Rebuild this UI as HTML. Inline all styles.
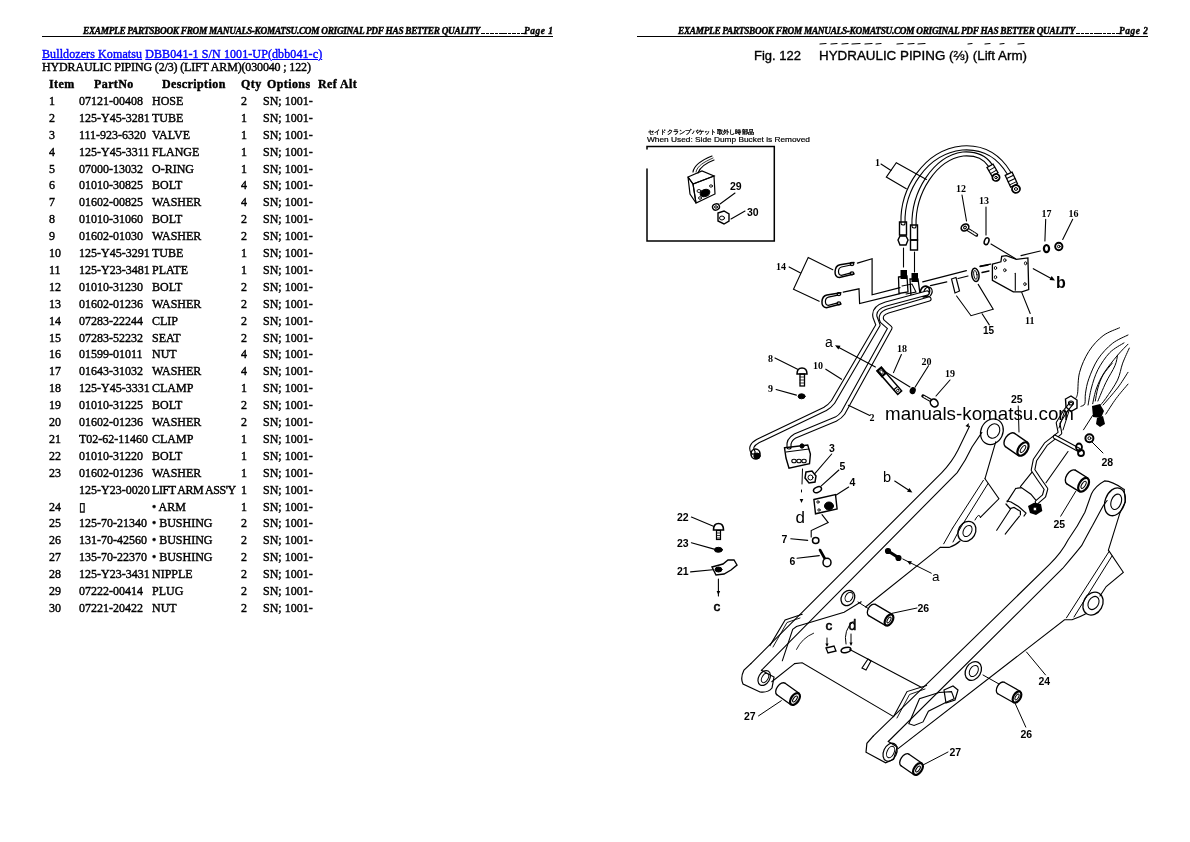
<!DOCTYPE html>
<html><head><meta charset="utf-8"><style>
html,body{margin:0;padding:0;background:#fff;}
body{width:1190px;height:842px;position:relative;overflow:hidden;font-family:"Liberation Serif",serif;color:#000;}
.r,.t,.hdr{-webkit-text-stroke-width:0.4px;will-change:transform;}
.hdr{position:absolute;font-family:"Liberation Serif",serif;font-weight:bold;font-style:italic;font-size:9.3px;line-height:10px;white-space:nowrap;}
.hl{position:absolute;height:1px;background:#000;}
.hd{position:absolute;top:32.5px;width:3.6px;height:1.6px;background:#000;}
.t{position:absolute;white-space:nowrap;font-size:12px;line-height:14px;}
.r{position:absolute;left:0;width:400px;height:14px;font-size:12px;line-height:14px;white-space:nowrap;}
.r span{position:absolute;top:0;}
.c1{left:49px} .c2{left:79px} .c3{left:152px} .c4{left:241px} .c5{left:263px}
.h span{position:absolute;top:0;font-weight:bold;}
a{color:#0000ff;text-decoration:underline;}
svg{position:absolute;left:0;top:0;}
</style></head><body>
<div class="hdr" style="left:83.4px;top:26px;letter-spacing:-0.3px">EXAMPLE PARTSBOOK FROM MANUALS-KOMATSU.COM ORIGINAL PDF HAS BETTER QUALITY</div><div class="hd" style="left:481.4px"></div><div class="hd" style="left:485.8px"></div><div class="hd" style="left:490.2px"></div><div class="hd" style="left:494.6px"></div><div class="hd" style="left:499.0px"></div><div class="hd" style="left:503.4px"></div><div class="hd" style="left:507.8px"></div><div class="hd" style="left:512.2px"></div><div class="hd" style="left:516.6px"></div><div class="hd" style="left:521.0px"></div><div class="hdr" style="left:524.4px;top:26px;letter-spacing:0.55px">Page 1</div>
<div class="hl" style="left:42px;top:36px;width:511px"></div>
<div class="hdr" style="left:678.4px;top:26px;letter-spacing:-0.3px">EXAMPLE PARTSBOOK FROM MANUALS-KOMATSU.COM ORIGINAL PDF HAS BETTER QUALITY</div><div class="hd" style="left:1076.4px"></div><div class="hd" style="left:1080.8px"></div><div class="hd" style="left:1085.2px"></div><div class="hd" style="left:1089.6px"></div><div class="hd" style="left:1094.0px"></div><div class="hd" style="left:1098.4px"></div><div class="hd" style="left:1102.8px"></div><div class="hd" style="left:1107.2px"></div><div class="hd" style="left:1111.6px"></div><div class="hd" style="left:1116.0px"></div><div class="hdr" style="left:1119.4px;top:26px;letter-spacing:0.55px">Page 2</div>
<div class="hl" style="left:637px;top:36px;width:511px"></div>
<div class="t" style="left:42px;top:46.5px;letter-spacing:0.1px"><a>Bulldozers Komatsu</a> <a>DBB041-1 S/N 1001-UP(dbb041-c)</a></div>
<div class="t" style="left:42px;top:60px;letter-spacing:-0.15px">HYDRAULIC PIPING (2/3) (LIFT ARM)(030040 ; 122)</div>
<div class="r h" style="top:77px;letter-spacing:0.4px"><span style="left:49px">Item</span><span style="left:94px">PartNo</span><span style="left:162px">Description</span><span style="left:241px">Qty</span><span style="left:267px">Options</span><span style="left:318px">Ref Alt</span></div>
<div class="r" style="top:93.9px"><span class="c1">1</span><span class="c2">07121-00408</span><span class="c3">HOSE</span><span class="c4">2</span><span class="c5">SN; 1001-</span></div>
<div class="r" style="top:110.8px"><span class="c1">2</span><span class="c2">125-Y45-3281</span><span class="c3">TUBE</span><span class="c4">1</span><span class="c5">SN; 1001-</span></div>
<div class="r" style="top:127.7px"><span class="c1">3</span><span class="c2">111-923-6320</span><span class="c3">VALVE</span><span class="c4">1</span><span class="c5">SN; 1001-</span></div>
<div class="r" style="top:144.6px"><span class="c1">4</span><span class="c2">125-Y45-3311</span><span class="c3">FLANGE</span><span class="c4">1</span><span class="c5">SN; 1001-</span></div>
<div class="r" style="top:161.5px"><span class="c1">5</span><span class="c2">07000-13032</span><span class="c3">O-RING</span><span class="c4">1</span><span class="c5">SN; 1001-</span></div>
<div class="r" style="top:178.4px"><span class="c1">6</span><span class="c2">01010-30825</span><span class="c3">BOLT</span><span class="c4">4</span><span class="c5">SN; 1001-</span></div>
<div class="r" style="top:195.3px"><span class="c1">7</span><span class="c2">01602-00825</span><span class="c3">WASHER</span><span class="c4">4</span><span class="c5">SN; 1001-</span></div>
<div class="r" style="top:212.2px"><span class="c1">8</span><span class="c2">01010-31060</span><span class="c3">BOLT</span><span class="c4">2</span><span class="c5">SN; 1001-</span></div>
<div class="r" style="top:229.1px"><span class="c1">9</span><span class="c2">01602-01030</span><span class="c3">WASHER</span><span class="c4">2</span><span class="c5">SN; 1001-</span></div>
<div class="r" style="top:246.0px"><span class="c1">10</span><span class="c2">125-Y45-3291</span><span class="c3">TUBE</span><span class="c4">1</span><span class="c5">SN; 1001-</span></div>
<div class="r" style="top:262.9px"><span class="c1">11</span><span class="c2">125-Y23-3481</span><span class="c3">PLATE</span><span class="c4">1</span><span class="c5">SN; 1001-</span></div>
<div class="r" style="top:279.8px"><span class="c1">12</span><span class="c2">01010-31230</span><span class="c3">BOLT</span><span class="c4">2</span><span class="c5">SN; 1001-</span></div>
<div class="r" style="top:296.7px"><span class="c1">13</span><span class="c2">01602-01236</span><span class="c3">WASHER</span><span class="c4">2</span><span class="c5">SN; 1001-</span></div>
<div class="r" style="top:313.6px"><span class="c1">14</span><span class="c2">07283-22244</span><span class="c3">CLIP</span><span class="c4">2</span><span class="c5">SN; 1001-</span></div>
<div class="r" style="top:330.5px"><span class="c1">15</span><span class="c2">07283-52232</span><span class="c3">SEAT</span><span class="c4">2</span><span class="c5">SN; 1001-</span></div>
<div class="r" style="top:347.4px"><span class="c1">16</span><span class="c2">01599-01011</span><span class="c3">NUT</span><span class="c4">4</span><span class="c5">SN; 1001-</span></div>
<div class="r" style="top:364.3px"><span class="c1">17</span><span class="c2">01643-31032</span><span class="c3">WASHER</span><span class="c4">4</span><span class="c5">SN; 1001-</span></div>
<div class="r" style="top:381.2px"><span class="c1">18</span><span class="c2">125-Y45-3331</span><span class="c3">CLAMP</span><span class="c4">1</span><span class="c5">SN; 1001-</span></div>
<div class="r" style="top:398.1px"><span class="c1">19</span><span class="c2">01010-31225</span><span class="c3">BOLT</span><span class="c4">2</span><span class="c5">SN; 1001-</span></div>
<div class="r" style="top:415.0px"><span class="c1">20</span><span class="c2">01602-01236</span><span class="c3">WASHER</span><span class="c4">2</span><span class="c5">SN; 1001-</span></div>
<div class="r" style="top:431.9px"><span class="c1">21</span><span class="c2">T02-62-11460</span><span class="c3">CLAMP</span><span class="c4">1</span><span class="c5">SN; 1001-</span></div>
<div class="r" style="top:448.8px"><span class="c1">22</span><span class="c2">01010-31220</span><span class="c3">BOLT</span><span class="c4">1</span><span class="c5">SN; 1001-</span></div>
<div class="r" style="top:465.7px"><span class="c1">23</span><span class="c2">01602-01236</span><span class="c3">WASHER</span><span class="c4">1</span><span class="c5">SN; 1001-</span></div>
<div class="r" style="top:482.6px"><span class="c1"></span><span class="c2">125-Y23-0020</span><span class="c3" style="letter-spacing:-0.45px">LIFT ARM ASS'Y</span><span class="c4">1</span><span class="c5">SN; 1001-</span></div>
<div class="r" style="top:499.5px"><span class="c1">24</span><span class="c2">▯</span><span class="c3">• ARM</span><span class="c4">1</span><span class="c5">SN; 1001-</span></div>
<div class="r" style="top:516.4px"><span class="c1">25</span><span class="c2">125-70-21340</span><span class="c3">• BUSHING</span><span class="c4">2</span><span class="c5">SN; 1001-</span></div>
<div class="r" style="top:533.3px"><span class="c1">26</span><span class="c2">131-70-42560</span><span class="c3">• BUSHING</span><span class="c4">2</span><span class="c5">SN; 1001-</span></div>
<div class="r" style="top:550.2px"><span class="c1">27</span><span class="c2">135-70-22370</span><span class="c3">• BUSHING</span><span class="c4">2</span><span class="c5">SN; 1001-</span></div>
<div class="r" style="top:567.1px"><span class="c1">28</span><span class="c2">125-Y23-3431</span><span class="c3">NIPPLE</span><span class="c4">2</span><span class="c5">SN; 1001-</span></div>
<div class="r" style="top:584.0px"><span class="c1">29</span><span class="c2">07222-00414</span><span class="c3">PLUG</span><span class="c4">2</span><span class="c5">SN; 1001-</span></div>
<div class="r" style="top:600.9px"><span class="c1">30</span><span class="c2">07221-20422</span><span class="c3">NUT</span><span class="c4">2</span><span class="c5">SN; 1001-</span></div>
<svg width="1190" height="842" viewBox="0 0 1190 842" stroke="#000" fill="none" stroke-linecap="round">
<text x="754" y="59.6" font-family="Liberation Sans" font-size="12.5" font-weight="normal" text-anchor="start"  fill="#000" textLength="47" lengthAdjust="spacingAndGlyphs" stroke="#000" stroke-width="0.35">Fig. 122</text>
<text x="819" y="59.6" font-family="Liberation Sans" font-size="12.5" font-weight="normal" text-anchor="start"  fill="#000" textLength="208" lengthAdjust="spacingAndGlyphs" stroke="#000" stroke-width="0.35">HYDRAULIC PIPING (⅔) (Lift Arm)</text>
<line x1="820" y1="44" x2="826" y2="43.5" stroke-width="1.2"/>
<line x1="831" y1="44" x2="837" y2="43.5" stroke-width="1.2"/>
<line x1="842" y1="44" x2="848" y2="43.5" stroke-width="1.2"/>
<line x1="852" y1="44" x2="860" y2="43.5" stroke-width="1.2"/>
<line x1="865" y1="44" x2="872" y2="43.5" stroke-width="1.2"/>
<line x1="876" y1="44" x2="881" y2="43.5" stroke-width="1.2"/>
<line x1="897" y1="44" x2="903" y2="43.5" stroke-width="1.2"/>
<line x1="908" y1="44" x2="914" y2="43.5" stroke-width="1.2"/>
<line x1="918" y1="44" x2="925" y2="43.5" stroke-width="1.2"/>
<line x1="968" y1="44" x2="972" y2="43.5" stroke-width="1.2"/>
<line x1="985" y1="44" x2="990" y2="43.5" stroke-width="1.2"/>
<line x1="1000" y1="44" x2="1004" y2="43.5" stroke-width="1.2"/>
<line x1="1018" y1="44" x2="1024" y2="43.5" stroke-width="1.2"/>
<text x="648" y="133.8" font-family="Liberation Sans" font-size="6.2" font-weight="normal" text-anchor="start"  fill="#000" textLength="106" lengthAdjust="spacingAndGlyphs" stroke="#000" stroke-width="0.3">セイドクランプバケット取外し時部品</text>
<text x="647" y="142.4" font-family="Liberation Sans" font-size="7.5" font-weight="normal" text-anchor="start"  fill="#000" textLength="163" lengthAdjust="spacingAndGlyphs" stroke="#000" stroke-width="0.2">When Used: Side Dump Bucket is Removed</text>
<polyline points="647,169 647,241 774.3,241 774.3,146.5 647,146.5 647,149" stroke-width="1.5" fill="none"/>
<polygon points="688,177 702,171 714,176 693,184" stroke-width="1.2" fill="none"/>
<polygon points="688,177 690,194 696,203 693,184" stroke-width="1.2" fill="none"/>
<polygon points="693,184 714,176 715,194 696,203" stroke-width="1.2" fill="none"/>
<path d="M693,172 C694,165 702,160 712,156" stroke-width="1.2" fill="none"/>
<path d="M698,173 C700,167 706,163 714,160" stroke-width="1.2" fill="none"/>
<path d="M696,172 C697,166 704,162 713,158" stroke-width="0.8" fill="none"/>
<ellipse cx="705" cy="193" rx="5" ry="3.5" transform="rotate(-20 705 193)" stroke-width="1" fill="#000"/>
<ellipse cx="699" cy="191" rx="2" ry="1.5" transform="rotate(0 699 191)" stroke-width="0.9" fill="none"/>
<ellipse cx="700" cy="198" rx="1.5" ry="1.3" transform="rotate(0 700 198)" stroke-width="0.9" fill="none"/>
<ellipse cx="711" cy="186" rx="1.5" ry="1.2" transform="rotate(0 711 186)" stroke-width="0.9" fill="none"/>
<text x="730" y="190.2" font-family="Liberation Sans" font-size="10.5" font-weight="bold" text-anchor="start" stroke="none" fill="#000" >29</text>
<line x1="720" y1="204" x2="735" y2="193" stroke-width="1.1"/>
<ellipse cx="716" cy="207" rx="3.5" ry="3" transform="rotate(-20 716 207)" stroke-width="1.4" fill="none"/>
<ellipse cx="716" cy="207" rx="1.5" ry="1.2" transform="rotate(0 716 207)" stroke-width="1" fill="none"/>
<polygon points="718,213 724,211 729,214 729,221 724,224 718,221" stroke-width="1.4" fill="none"/>
<ellipse cx="722" cy="218" rx="2.5" ry="2" transform="rotate(0 722 218)" stroke-width="1" fill="none"/>
<text x="747" y="215.5" font-family="Liberation Sans" font-size="10.5" font-weight="bold" text-anchor="start" stroke="none" fill="#000" >30</text>
<line x1="731" y1="219" x2="745" y2="211" stroke-width="1.1"/>
<path d="M903,223 C902,190 925,152 962,148 C988,146 1001,160 1009,173" stroke-width="5.2" fill="none" stroke-linejoin="round"/>
<path d="M903,223 C902,190 925,152 962,148 C988,146 1001,160 1009,173" stroke-width="3.0" fill="none" stroke="#fff" stroke-linejoin="round"/>
<path d="M914,226 C913,192 935,158 963,154 C978,153 985,158 990,165" stroke-width="5.2" fill="none" stroke-linejoin="round"/>
<path d="M914,226 C913,192 935,158 963,154 C978,153 985,158 990,165" stroke-width="3.0" fill="none" stroke="#fff" stroke-linejoin="round"/>
<g transform="translate(1012,181) rotate(-25)"><rect x="-3.8" y="-8" width="7.6" height="13" fill="#fff" stroke-width="1.3"/><line x1="-3.8" y1="-4.5" x2="3.8" y2="-4.5" stroke-width="1"/><line x1="-3.8" y1="-1" x2="3.8" y2="-1" stroke-width="1"/><line x1="-3.8" y1="2.5" x2="3.8" y2="2.5" stroke-width="1"/></g>
<ellipse cx="1016" cy="189" rx="4" ry="3.8" transform="rotate(-25 1016 189)" stroke-width="1.8" fill="#fff"/>
<ellipse cx="1016" cy="189" rx="1.6" ry="1.4" transform="rotate(0 1016 189)" stroke-width="1" fill="none"/>
<g transform="translate(993,171) rotate(-30)"><rect x="-3.5" y="-6" width="7" height="10" fill="#fff" stroke-width="1.3"/><line x1="-3.5" y1="-2.5" x2="3.5" y2="-2.5" stroke-width="1"/><line x1="-3.5" y1="1" x2="3.5" y2="1" stroke-width="1"/></g>
<ellipse cx="996" cy="177.5" rx="3.6" ry="3.4" transform="rotate(-25 996 177.5)" stroke-width="1.8" fill="#fff"/>
<ellipse cx="996" cy="177.5" rx="1.3" ry="1.2" transform="rotate(0 996 177.5)" stroke-width="1" fill="none"/>
<polygon points="899.5,222 906.5,222 906.5,235 899.5,235" stroke-width="1.4" fill="none"/>
<polygon points="900,236 906,236 908,240 906,245 900,245 898,240" stroke-width="1.4" fill="none"/>
<polygon points="910.5,225 917.5,225 917.5,240 910.5,240" stroke-width="1.4" fill="none"/>
<polygon points="910.5,240 917.5,240 917.5,250 910.5,250" stroke-width="1.4" fill="none"/>
<line x1="903.5" y1="248" x2="903.5" y2="267" stroke-width="1.1"/>
<line x1="914.5" y1="252" x2="914.5" y2="272" stroke-width="1.1"/>
<text x="875" y="166" font-family="Liberation Serif" font-size="10" font-weight="bold" text-anchor="start" stroke="none" fill="#000" >1</text>
<line x1="881" y1="164" x2="891" y2="170.5" stroke-width="1.1"/>
<polyline points="926.4,179.4 896.3,162.7 886.3,177.1 906.3,188.7" stroke-width="1.1" fill="none"/>
<text x="956" y="192" font-family="Liberation Serif" font-size="10" font-weight="bold" text-anchor="start" stroke="none" fill="#000" >12</text>
<line x1="962" y1="195" x2="966.5" y2="221" stroke-width="1.1"/>
<path d="M967,229 L976.5,235" stroke-width="3.4" fill="none"/>
<path d="M968,229.6 L976,234.6" stroke-width="1.2" fill="none"/>
<path d="M968,229.6 L976,234.6" stroke="#fff" stroke-width="1.6" stroke-dasharray="1,1.3"/>
<ellipse cx="965" cy="227.5" rx="4" ry="3.2" transform="rotate(-30 965 227.5)" stroke-width="1.6" fill="#fff"/>
<ellipse cx="965" cy="227.5" rx="1.5" ry="1.2" transform="rotate(-30 965 227.5)" stroke-width="1" fill="none"/>
<text x="979" y="204" font-family="Liberation Serif" font-size="10" font-weight="bold" text-anchor="start" stroke="none" fill="#000" >13</text>
<line x1="986" y1="207" x2="986" y2="235" stroke-width="1.1"/>
<ellipse cx="986.6" cy="241.2" rx="2.2" ry="3.5" transform="rotate(20 986.6 241.2)" stroke-width="1.5" fill="none"/>
<line x1="991" y1="244" x2="1015.6" y2="258.7" stroke-width="1.1"/>
<text x="1041.5" y="217" font-family="Liberation Serif" font-size="10" font-weight="bold" text-anchor="start" stroke="none" fill="#000" >17</text>
<line x1="1045.7" y1="219.3" x2="1044.9" y2="240.9" stroke-width="1.1"/>
<ellipse cx="1046.5" cy="248.6" rx="2.6" ry="3.6" transform="rotate(0 1046.5 248.6)" stroke-width="2.2" fill="none"/>
<text x="1068.5" y="217" font-family="Liberation Serif" font-size="10" font-weight="bold" text-anchor="start" stroke="none" fill="#000" >16</text>
<line x1="1072.7" y1="219.3" x2="1062.7" y2="239.4" stroke-width="1.1"/>
<ellipse cx="1058.8" cy="246.5" rx="3.6" ry="3.8" transform="rotate(0 1058.8 246.5)" stroke-width="2.0" fill="none"/>
<ellipse cx="1058.8" cy="246.5" rx="1.3" ry="1.3" transform="rotate(0 1058.8 246.5)" stroke-width="1" fill="none"/>
<line x1="1040.3" y1="251" x2="1021" y2="255.6" stroke-width="1.1"/>
<polygon points="992.4,264.1 1000.9,261.8 1001.7,256.4 1006.3,255.6 1016.4,259.4 1027.9,257.9 1028.7,289.5 1021.8,291.9 1013.3,291.9 992.4,280.3" stroke-width="1.3" fill="none"/>
<line x1="1015.3" y1="273.3" x2="1015.3" y2="290.3" stroke-width="1.1"/>
<ellipse cx="1004.8" cy="260.2" rx="1.2" ry="1.5" transform="rotate(0 1004.8 260.2)" stroke-width="0.9" fill="none"/>
<ellipse cx="1004.8" cy="270.2" rx="1.2" ry="1.5" transform="rotate(0 1004.8 270.2)" stroke-width="0.9" fill="none"/>
<ellipse cx="995.5" cy="268" rx="1.2" ry="1.5" transform="rotate(0 995.5 268)" stroke-width="0.9" fill="none"/>
<ellipse cx="995.5" cy="277.2" rx="1.2" ry="1.5" transform="rotate(0 995.5 277.2)" stroke-width="0.9" fill="none"/>
<ellipse cx="1025.6" cy="263.3" rx="1.2" ry="1.5" transform="rotate(0 1025.6 263.3)" stroke-width="0.9" fill="none"/>
<ellipse cx="1024.9" cy="284.1" rx="1.2" ry="1.5" transform="rotate(0 1024.9 284.1)" stroke-width="0.9" fill="none"/>
<ellipse cx="975.4" cy="274.9" rx="3.6" ry="6.6" transform="rotate(-8 975.4 274.9)" stroke-width="1.5" fill="none"/>
<ellipse cx="975.4" cy="274.9" rx="1.6" ry="4.5" transform="rotate(-8 975.4 274.9)" stroke-width="0.9" fill="none"/>
<line x1="980" y1="266.5" x2="988" y2="265" stroke-width="1.3"/>
<line x1="982" y1="272.5" x2="989" y2="271" stroke-width="1.3"/>
<polygon points="951.5,279 956,277.5 959.5,291 955,293" stroke-width="1.2" fill="none"/>
<polyline points="978.2,284.4 993.2,309.2 971,315.7 956.6,296" stroke-width="1.1" fill="none"/>
<text x="983" y="334" font-family="Liberation Sans" font-size="10" font-weight="bold" text-anchor="start" stroke="none" fill="#000" >15</text>
<line x1="982.1" y1="313.8" x2="989.3" y2="324.9" stroke-width="1.1"/>
<line x1="1033.3" y1="268.7" x2="1053" y2="279.5" stroke-width="1.2"/>
<polygon points="1055.0,280.5 1049.5,280.0 1051.7,276.1" fill="#000" stroke="none"/>
<text x="1056" y="287.5" font-family="Liberation Sans" font-size="16" font-weight="bold" text-anchor="start" stroke="none" fill="#000" >b</text>
<text x="1025" y="324.3" font-family="Liberation Serif" font-size="10" font-weight="bold" text-anchor="start" stroke="none" fill="#000" >11</text>
<line x1="1021.8" y1="292.6" x2="1030.2" y2="313.5" stroke-width="1.1"/>
<line x1="922.7" y1="281.8" x2="966.4" y2="270.7" stroke-width="1.2"/>
<line x1="980.2" y1="266.1" x2="990.6" y2="264.2" stroke-width="1.2"/>
<line x1="930.5" y1="285.7" x2="946.8" y2="281.8" stroke-width="1.2"/>
<line x1="958" y1="278.5" x2="968" y2="276" stroke-width="1.2"/>
<text x="776" y="269.7" font-family="Liberation Serif" font-size="10" font-weight="bold" text-anchor="start" stroke="none" fill="#000" >14</text>
<line x1="789.1" y1="266.9" x2="800.6" y2="272.9" stroke-width="1.1"/>
<polyline points="832.8,269.7 808.2,257.6 793.5,289.3 819.2,301.3" stroke-width="1.1" fill="none"/>
<g transform="translate(0,0)">
<path d="M854,262.6 L840,264.8 C834,266 833,277 839.5,277.6 L854,274" stroke-width="1.5" fill="none"/>
<path d="M851,265 L841.5,267 C837.5,268 837.5,275 841.5,275.3 L851,272.8" stroke-width="1.2" fill="none"/>
<ellipse cx="852" cy="264" rx="1.8" ry="1.5" transform="rotate(0 852 264)" stroke-width="1.3" fill="none"/>
<ellipse cx="852" cy="273.3" rx="1.8" ry="1.5" transform="rotate(0 852 273.3)" stroke-width="1.3" fill="none"/>
</g>
<g transform="translate(-13.1,30.1)">
<path d="M854,262.6 L840,264.8 C834,266 833,277 839.5,277.6 L854,274" stroke-width="1.5" fill="none"/>
<path d="M851,265 L841.5,267 C837.5,268 837.5,275 841.5,275.3 L851,272.8" stroke-width="1.2" fill="none"/>
<ellipse cx="852" cy="264" rx="1.8" ry="1.5" transform="rotate(0 852 264)" stroke-width="1.3" fill="none"/>
<ellipse cx="852" cy="273.3" rx="1.8" ry="1.5" transform="rotate(0 852 273.3)" stroke-width="1.3" fill="none"/>
</g>
<polyline points="857.4,263.1 872.1,258.7 872.1,294.8 900,287.7" stroke-width="1.2" fill="none"/>
<polyline points="843.2,292.1 859,288.8 859.6,303.5 900,293.7" stroke-width="1.2" fill="none"/>
<rect x="900.5" y="270" width="6.5" height="9" fill="#000" stroke="none"/>
<rect x="911.5" y="273" width="6.5" height="9" fill="#000" stroke="none"/>
<polygon points="898.5,277 907,276 908,292 899,293.5" stroke-width="1.3" fill="none"/>
<polygon points="910,279 918,279 920,294 911,296" stroke-width="1.3" fill="none"/>
<polyline points="902,286 912,284 916,292 906,294" stroke-width="1.1" fill="none"/>
<ellipse cx="925" cy="291.5" rx="4.5" ry="5.5" transform="rotate(20 925 291.5)" stroke-width="1.6" fill="none"/>
<ellipse cx="928" cy="292" rx="4" ry="5" transform="rotate(20 928 292)" stroke-width="1.3" fill="none"/>
<path d="M927,293 L886,304 Q873,308 875,317 L878,325 L833,402 Q830,406 825,409 L758,441 Q749,446 753,452" stroke-width="5.2" fill="none" stroke-linejoin="round"/>
<path d="M927,293 L886,304 Q873,308 875,317 L878,325 L833,402 Q830,406 825,409 L758,441 Q749,446 753,452" stroke-width="3.0" fill="none" stroke="#fff" stroke-linejoin="round"/>
<path d="M929,299 L888,311 Q879,314 882,321 L890,328 L843,413 Q840,417 836,419 L795,436 Q788,440 789,447" stroke-width="5.2" fill="none" stroke-linejoin="round"/>
<path d="M929,299 L888,311 Q879,314 882,321 L890,328 L843,413 Q840,417 836,419 L795,436 Q788,440 789,447" stroke-width="3.0" fill="none" stroke="#fff" stroke-linejoin="round"/>
<ellipse cx="755.5" cy="454" rx="4.5" ry="5" transform="rotate(0 755.5 454)" stroke-width="1.6" fill="none"/>
<ellipse cx="757" cy="456" rx="3.2" ry="3" transform="rotate(0 757 456)" stroke-width="1" fill="#000"/>
<polygon points="784.5,447.8 807.7,445.1 810.4,454 809.5,463.8 789,468.3 786,458" stroke-width="1.4" fill="none"/>
<line x1="786" y1="452" x2="809" y2="449" stroke-width="1.1"/>
<ellipse cx="794" cy="461" rx="2.2" ry="1.8" transform="rotate(0 794 461)" stroke-width="1.1" fill="none"/>
<ellipse cx="799" cy="461" rx="2.2" ry="1.8" transform="rotate(0 799 461)" stroke-width="1.1" fill="none"/>
<ellipse cx="804" cy="461" rx="2.2" ry="1.8" transform="rotate(0 804 461)" stroke-width="1.1" fill="none"/>
<ellipse cx="802" cy="446" rx="2" ry="2.2" transform="rotate(0 802 446)" stroke-width="1" fill="#000"/>
<text x="768" y="361.5" font-family="Liberation Serif" font-size="10" font-weight="bold" text-anchor="start" stroke="none" fill="#000" >8</text>
<line x1="775" y1="357.9" x2="797.6" y2="369.2" stroke-width="1.1"/>
<path d="M797,374 Q797,368 802,368 Q807,368 807,374 Z" stroke-width="1.5" fill="none"/>
<rect x="800" y="374" width="4.5" height="12" fill="none" stroke-width="1.3"/>
<line x1="800" y1="377" x2="804.5" y2="377" stroke-width="0.8"/>
<line x1="800" y1="380" x2="804.5" y2="380" stroke-width="0.8"/>
<line x1="800" y1="383" x2="804.5" y2="383" stroke-width="0.8"/>
<text x="768" y="391.5" font-family="Liberation Serif" font-size="10" font-weight="bold" text-anchor="start" stroke="none" fill="#000" >9</text>
<line x1="776.1" y1="389.5" x2="796.4" y2="395.1" stroke-width="1.1"/>
<ellipse cx="801.6" cy="396.3" rx="3.5" ry="2.5" transform="rotate(0 801.6 396.3)" stroke-width="1" fill="#000"/>
<text x="813" y="369" font-family="Liberation Serif" font-size="10" font-weight="bold" text-anchor="start" stroke="none" fill="#000" >10</text>
<line x1="825.8" y1="369.2" x2="841.6" y2="379.3" stroke-width="1.1"/>
<text x="869.5" y="421" font-family="Liberation Serif" font-size="10" font-weight="bold" text-anchor="start" stroke="none" fill="#000" >2</text>
<line x1="848.4" y1="405.3" x2="869.8" y2="415.4" stroke-width="1.1"/>
<text x="825" y="346.5" font-family="Liberation Sans" font-size="14" font-weight="normal" text-anchor="start" stroke="none" fill="#000" >a</text>
<line x1="837" y1="346.5" x2="875.4" y2="366.9" stroke-width="1.1"/>
<polygon points="835.0,345.3 840.5,345.7 838.4,349.6" fill="#000" stroke="none"/>
<g transform="translate(880,370) rotate(-41)"><rect x="-2.6" y="-1" width="5.2" height="31" fill="#fff" stroke-width="1.5"/><rect x="-2.6" y="-1" width="5.2" height="7" fill="none" stroke-width="2.2"/><rect x="-1.2" y="1" width="2.4" height="3" fill="none" stroke-width="0.9"/><line x1="-2.6" y1="24" x2="2.6" y2="24" stroke-width="1.2"/><circle cx="0" cy="27" r="1.2" stroke-width="0.9"/></g>
<text x="897" y="352" font-family="Liberation Serif" font-size="10" font-weight="bold" text-anchor="start" stroke="none" fill="#000" >18</text>
<line x1="901.4" y1="354.5" x2="893.5" y2="372.6" stroke-width="1.1"/>
<line x1="884" y1="371" x2="910" y2="387" stroke-width="1.1"/>
<ellipse cx="912.7" cy="390.6" rx="2.4" ry="3" transform="rotate(20 912.7 390.6)" stroke-width="1.2" fill="#000"/>
<text x="921.5" y="364.5" font-family="Liberation Serif" font-size="10" font-weight="bold" text-anchor="start" stroke="none" fill="#000" >20</text>
<line x1="928.5" y1="365.8" x2="915" y2="387.2" stroke-width="1.1"/>
<path d="M923,396 L931,400.5" stroke-width="3.4" fill="none"/>
<path d="M924,396.6 L930,400" stroke="#fff" stroke-width="1.4" stroke-dasharray="1,1.2"/>
<ellipse cx="934.2" cy="403" rx="3.6" ry="4.2" transform="rotate(-40 934.2 403)" stroke-width="1.6" fill="#fff"/>
<text x="945" y="377" font-family="Liberation Serif" font-size="10" font-weight="bold" text-anchor="start" stroke="none" fill="#000" >19</text>
<line x1="950" y1="380" x2="936" y2="396" stroke-width="1.1"/>
<text x="829" y="452.3" font-family="Liberation Sans" font-size="10.5" font-weight="bold" text-anchor="start" stroke="none" fill="#000" >3</text>
<line x1="831.7" y1="454" x2="814.8" y2="473.6" stroke-width="1.1"/>
<polygon points="806,472 812,471 816,476 815,482 809,483 805,478" stroke-width="1.5" fill="none"/>
<ellipse cx="810.5" cy="477.5" rx="2.5" ry="2.5" transform="rotate(0 810.5 477.5)" stroke-width="1" fill="none"/>
<text x="839.5" y="470" font-family="Liberation Sans" font-size="10.5" font-weight="bold" text-anchor="start" stroke="none" fill="#000" >5</text>
<line x1="838.9" y1="470" x2="821" y2="486.1" stroke-width="1.1"/>
<ellipse cx="817.5" cy="489.7" rx="4.2" ry="2.6" transform="rotate(-25 817.5 489.7)" stroke-width="1.5" fill="none"/>
<text x="849.5" y="486.1" font-family="Liberation Sans" font-size="10.5" font-weight="bold" text-anchor="start" stroke="none" fill="#000" >4</text>
<line x1="848.7" y1="487" x2="836.2" y2="495" stroke-width="1.1"/>
<polygon points="813.9,499.5 835.5,494.6 837.1,509 815.5,513.8" stroke-width="1.4" fill="none"/>
<ellipse cx="829" cy="506" rx="4.5" ry="4" transform="rotate(0 829 506)" stroke-width="1" fill="#000"/>
<ellipse cx="818" cy="502" rx="1.2" ry="1.2" transform="rotate(0 818 502)" stroke-width="0.9" fill="none"/>
<ellipse cx="819" cy="510" rx="1.2" ry="1.2" transform="rotate(0 819 510)" stroke-width="0.9" fill="none"/>
<polyline points="822,514.6 828.2,522.6 811.2,530.6 811.2,536.9" stroke-width="1.1" fill="none"/>
<line x1="802.5" y1="469" x2="802" y2="484" stroke-width="1.0"/>
<line x1="801.5" y1="490" x2="801.5" y2="492" stroke-width="1.0"/>
<polygon points="801.5,503.0 799.7,499.0 803.3,499.0" fill="#000" stroke="none"/>
<text x="795.5" y="522.6" font-family="Liberation Sans" font-size="17" font-weight="normal" text-anchor="start" stroke="none" fill="#000" >d</text>
<text x="781.5" y="543.1" font-family="Liberation Sans" font-size="10.5" font-weight="bold" text-anchor="start" stroke="none" fill="#000" >7</text>
<line x1="790.8" y1="538.7" x2="807.7" y2="540.4" stroke-width="1.1"/>
<ellipse cx="815.7" cy="540.4" rx="3.2" ry="3" transform="rotate(0 815.7 540.4)" stroke-width="1.5" fill="none"/>
<text x="789.5" y="565.4" font-family="Liberation Sans" font-size="10.5" font-weight="bold" text-anchor="start" stroke="none" fill="#000" >6</text>
<line x1="797" y1="558.3" x2="819.3" y2="555.6" stroke-width="1.1"/>
<path d="M820,550 L825,559" stroke-width="2.6" fill="none"/>
<ellipse cx="827" cy="562.5" rx="4" ry="4.2" transform="rotate(0 827 562.5)" stroke-width="1.5" fill="#fff"/>
<text x="677" y="520.6" font-family="Liberation Sans" font-size="10.5" font-weight="bold" text-anchor="start" stroke="none" fill="#000" >22</text>
<line x1="691.4" y1="517.1" x2="713.4" y2="526.3" stroke-width="1.1"/>
<path d="M713.5,530 Q713.5,523.5 718.5,523.5 Q723.5,523.5 723.5,530 Z" stroke-width="1.6" fill="none"/>
<rect x="716.5" y="530.5" width="4" height="9" fill="none" stroke-width="1.2"/>
<line x1="716.5" y1="533" x2="720.5" y2="533" stroke-width="0.8"/>
<line x1="716.5" y1="535.5" x2="720.5" y2="535.5" stroke-width="0.8"/>
<line x1="716.5" y1="538" x2="720.5" y2="538" stroke-width="0.8"/>
<text x="677" y="547" font-family="Liberation Sans" font-size="10.5" font-weight="bold" text-anchor="start" stroke="none" fill="#000" >23</text>
<line x1="691.4" y1="542.7" x2="714.1" y2="549.1" stroke-width="1.1"/>
<ellipse cx="718.4" cy="549.8" rx="4" ry="2.5" transform="rotate(0 718.4 549.8)" stroke-width="1" fill="#000"/>
<text x="677" y="574.8" font-family="Liberation Sans" font-size="10.5" font-weight="bold" text-anchor="start" stroke="none" fill="#000" >21</text>
<line x1="690.6" y1="571.9" x2="712.7" y2="569.8" stroke-width="1.1"/>
<polygon points="712,567 723,564 728,560 734,560 737,565 731,570 724,574 716,575" stroke-width="1.4" fill="none"/>
<ellipse cx="718.5" cy="569.5" rx="3.5" ry="2.5" transform="rotate(0 718.5 569.5)" stroke-width="1" fill="#000"/>
<line x1="718.4" y1="579" x2="718.4" y2="596" stroke-width="1.1"/>
<polygon points="718.4,595.0 716.6,591.0 720.2,591.0" fill="#000" stroke="none"/>
<text x="713.5" y="611" font-family="Liberation Sans" font-size="13.5" font-weight="normal" text-anchor="start"  fill="#000" stroke="#000" stroke-width="0.6">c</text>
<path d="M750.9,663.6 L941.8,472.6 Q952,462 958,450 L969.5,426.2" stroke-width="1.1" fill="none"/>
<path d="M761.4,670.3 L957.2,472.6 Q966,460 972,447 L981.9,432.4" stroke-width="1.1" fill="none"/>
<polygon points="968.8,423.0 968.7,427.4 965.5,425.9" fill="#000" stroke="none"/>
<line x1="771.8" y1="681.7" x2="794.6" y2="663.6" stroke-width="1.1"/>
<line x1="865.5" y1="607" x2="940.2" y2="547.4" stroke-width="1.1"/>
<path d="M940.2,547.4 L949,547.4 Q956,545 960,541" stroke-width="1.1" fill="none"/>
<path d="M750.9,663.6 L744,670 Q740,678 743,684 L760,692 Q768,693 772,688 L774,677 L761.4,670.3" stroke-width="1.2" fill="none"/>
<ellipse cx="764.2" cy="678" rx="5.5" ry="8" transform="rotate(30 764.2 678)" stroke-width="1.2" fill="none"/>
<ellipse cx="765" cy="678" rx="3" ry="5" transform="rotate(30 765 678)" stroke-width="0.9" fill="none"/>
<path d="M769.9,645.6 L785.1,619.9 L802.2,614.2" stroke-width="1.1" fill="none"/>
<path d="M773,647 L787,622.5 L800,618" stroke-width="0.9" fill="none"/>
<path d="M782.3,660.8 L792.7,629.4 L796.5,626.5 L844.1,612.3 L861.2,601.8" stroke-width="1.1" fill="none"/>
<path d="M796.5,649.4 Q802,638 813.6,633.2" stroke-width="0.9" fill="none"/>
<ellipse cx="847.9" cy="598" rx="6.5" ry="8" transform="rotate(30 847.9 598)" stroke-width="1.3" fill="none"/>
<ellipse cx="849" cy="597" rx="3.5" ry="5" transform="rotate(30 849 597)" stroke-width="1" fill="none"/>
<path d="M794.6,663.6 L802.2,662.7 L893.6,716.6" stroke-width="1.1" fill="none"/>
<line x1="849.8" y1="649.4" x2="921.2" y2="687.2" stroke-width="1.1"/>
<path d="M827,638 L827,645" stroke-width="1.0" fill="none"/>
<polygon points="827.0,647.0 825.4,643.5 828.6,643.5" fill="#000" stroke="none"/>
<polygon points="826,648 834,646 836,651 828,653" stroke-width="1.3" fill="none"/>
<path d="M851,634 L851,644" stroke-width="1.0" fill="none"/>
<polygon points="851.0,646.0 849.4,642.5 852.6,642.5" fill="#000" stroke="none"/>
<ellipse cx="846" cy="650" rx="5" ry="2.5" transform="rotate(-15 846 650)" stroke-width="1.5" fill="none"/>
<path d="M853.5,621 Q843,630 846,644" stroke-width="1.0" fill="none"/>
<text x="825.5" y="630.3" font-family="Liberation Sans" font-size="13.5" font-weight="normal" text-anchor="start"  fill="#000" stroke="#000" stroke-width="0.6">c</text>
<text x="848.5" y="630.3" font-family="Liberation Sans" font-size="14" font-weight="normal" text-anchor="start"  fill="#000" stroke="#000" stroke-width="0.5">d</text>
<polygon points="862,668 868,659 871,661 866,670" stroke-width="1.2" fill="none"/>
<ellipse cx="991.9" cy="431.7" rx="11" ry="13.2" transform="rotate(25 991.9 431.7)" stroke-width="1.2" fill="none"/>
<ellipse cx="993.5" cy="431" rx="6" ry="7.5" transform="rotate(25 993.5 431)" stroke-width="1.1" fill="none"/>
<line x1="995.8" y1="441.7" x2="985" y2="478.7" stroke-width="1.1"/>
<polyline points="985,478.7 998.9,498.8 980.4,517.3" stroke-width="1.1" fill="none"/>
<line x1="983.4" y1="480.3" x2="952.6" y2="528.1" stroke-width="1.0"/>
<line x1="988.1" y1="483.4" x2="960.3" y2="528.1" stroke-width="1.0"/>
<line x1="952.6" y1="528.1" x2="943.7" y2="543.8" stroke-width="1.0"/>
<line x1="960.3" y1="528.1" x2="953" y2="542" stroke-width="1.0"/>
<ellipse cx="966.9" cy="531.4" rx="8.5" ry="10.5" transform="rotate(30 966.9 531.4)" stroke-width="1.3" fill="none"/>
<ellipse cx="967.5" cy="531" rx="4" ry="6" transform="rotate(30 967.5 531)" stroke-width="1" fill="none"/>
<path d="M975,520 Q979,512 980.4,517.3" stroke-width="1.0" fill="none"/>
<text x="883" y="482" font-family="Liberation Sans" font-size="14.5" font-weight="normal" text-anchor="start" stroke="none" fill="#000" >b</text>
<line x1="894.7" y1="481" x2="910" y2="491" stroke-width="1.1"/>
<polygon points="912.4,492.6 907.0,491.8 909.4,488.0" fill="#000" stroke="none"/>
<path d="M888,551 L899,558" stroke-width="3.2" fill="none"/>
<path d="M888,551 L899,558" stroke-width="1.2" fill="none"/>
<ellipse cx="888" cy="551" rx="2.5" ry="2.5" transform="rotate(0 888 551)" stroke-width="1.2" fill="#000"/>
<ellipse cx="898.5" cy="558" rx="2.5" ry="2.5" transform="rotate(0 898.5 558)" stroke-width="1.2" fill="#000"/>
<line x1="902.8" y1="559" x2="931.3" y2="573.2" stroke-width="1.0"/>
<polygon points="907.0,561.0 911.9,561.3 910.0,564.9" fill="#000" stroke="none"/>
<text x="932" y="581.3" font-family="Liberation Sans" font-size="13.5" font-weight="normal" text-anchor="start" stroke="none" fill="#000" >a</text>
<path d="M868.7,615.6 L885.7,625.6 M875.3,604.4 L892.3,614.4" stroke-width="1.3" fill="none"/>
<path d="M868.7,615.6 A3.9,6.5 30.5 0 1 875.3,604.4" stroke-width="1.3" fill="none"/>
<ellipse cx="889" cy="620" rx="3.575" ry="6.175" transform="rotate(30.46554491945988 889 620)" stroke-width="2.2" fill="#fff"/>
<ellipse cx="889" cy="620" rx="1.43" ry="3.25" transform="rotate(30.46554491945988 889 620)" stroke-width="1.0" fill="none"/>
<text x="917.5" y="611.6" font-family="Liberation Sans" font-size="10.5" font-weight="bold" text-anchor="start" stroke="none" fill="#000" >26</text>
<line x1="892.1" y1="613.3" x2="917" y2="608" stroke-width="1.0"/>
<line x1="858" y1="602" x2="869" y2="609" stroke-width="1.0"/>
<path d="M776.9,694.7 L790.9,704.7 M785.1,683.3 L799.1,693.3" stroke-width="1.3" fill="none"/>
<path d="M776.9,694.7 A4.2,7.0 35.5 0 1 785.1,683.3" stroke-width="1.3" fill="none"/>
<ellipse cx="795" cy="699" rx="3.8500000000000005" ry="6.6499999999999995" transform="rotate(35.53767779197438 795 699)" stroke-width="2.2" fill="#fff"/>
<ellipse cx="795" cy="699" rx="1.54" ry="3.5" transform="rotate(35.53767779197438 795 699)" stroke-width="1.0" fill="none"/>
<text x="744" y="719.7" font-family="Liberation Sans" font-size="10.5" font-weight="bold" text-anchor="start" stroke="none" fill="#000" >27</text>
<line x1="758.5" y1="715.9" x2="781.3" y2="700.7" stroke-width="1.0"/>
<path d="M873.2,736.2 L1049.3,564.7 Q1062,552 1068,540 Q1078,526 1084.9,512.3 L1091.4,494 Q1095,486 1104.5,480.9 Q1112,481 1124.1,489.4" stroke-width="1.1" fill="none"/>
<path d="M888.3,741.5 L1062.6,568.5 Q1075,554 1081.6,545.7 Q1090,530 1092.7,525.3 L1103.2,505.7 L1107.1,500.5" stroke-width="1.1" fill="none"/>
<path d="M898.1,748.6 L1064.5,619.8 L1072,619.8 Q1080,617 1085.4,614" stroke-width="1.1" fill="none"/>
<path d="M873.2,736.2 L866.9,743.3 L866,752.2 L885.6,762.9 L893.6,759.3 L897.2,746.9 L888.3,741.5" stroke-width="1.2" fill="none"/>
<ellipse cx="890.1" cy="752.2" rx="6.5" ry="9.5" transform="rotate(25 890.1 752.2)" stroke-width="1.2" fill="none"/>
<ellipse cx="890.6" cy="752" rx="3.5" ry="6" transform="rotate(25 890.6 752)" stroke-width="1" fill="none"/>
<path d="M893.6,716.6 L907,691.6 L926.6,685.4" stroke-width="1.1" fill="none"/>
<path d="M897,718 L909.5,694.5 L925,689" stroke-width="0.9" fill="none"/>
<polygon points="908.8,723.7 919.5,698.8 939,692.5 951.5,691.6 954.2,698.8 946.2,702.3 928.4,711.2 923,721.9 914.1,725.5" stroke-width="1.1" fill="none"/>
<polygon points="944,690 953,686 958,690 955,700 946,703" stroke-width="1.2" fill="none"/>
<ellipse cx="1093" cy="603.6" rx="9.5" ry="12" transform="rotate(30 1093 603.6)" stroke-width="1.3" fill="none"/>
<ellipse cx="1093.5" cy="603" rx="5" ry="7" transform="rotate(30 1093.5 603)" stroke-width="1.1" fill="none"/>
<ellipse cx="1114.9" cy="501.8" rx="9.8" ry="14.4" transform="rotate(20 1114.9 501.8)" stroke-width="1.3" fill="none"/>
<ellipse cx="1116.2" cy="501.8" rx="5" ry="8" transform="rotate(20 1116.2 501.8)" stroke-width="1.1" fill="none"/>
<path d="M1124.1,489.4 L1125.4,501.8 L1120.1,512.3" stroke-width="1.1" fill="none"/>
<line x1="1120.1" y1="512.3" x2="1108.4" y2="550.1" stroke-width="1.1"/>
<polyline points="1108.4,550.1 1123.3,572.3 1106.2,586.5 1100,596" stroke-width="1.1" fill="none"/>
<line x1="1109.1" y1="551.4" x2="1066.4" y2="617.9" stroke-width="1.0"/>
<line x1="1112" y1="556" x2="1074" y2="617" stroke-width="1.0"/>
<ellipse cx="973.3" cy="671" rx="7.5" ry="10" transform="rotate(30 973.3 671)" stroke-width="1.3" fill="none"/>
<ellipse cx="973.8" cy="671" rx="4" ry="6" transform="rotate(30 973.8 671)" stroke-width="1" fill="none"/>
<line x1="983" y1="675" x2="999" y2="684" stroke-width="1.0"/>
<path d="M997.8,693.7 L1013.8,702.7 M1004.2,682.3 L1020.2,691.3" stroke-width="1.3" fill="none"/>
<path d="M997.8,693.7 A3.9,6.5 29.4 0 1 1004.2,682.3" stroke-width="1.3" fill="none"/>
<ellipse cx="1017" cy="697" rx="3.575" ry="6.175" transform="rotate(29.357753542791276 1017 697)" stroke-width="2.2" fill="#fff"/>
<ellipse cx="1017" cy="697" rx="1.43" ry="3.25" transform="rotate(29.357753542791276 1017 697)" stroke-width="1.0" fill="none"/>
<text x="1020.5" y="738.4" font-family="Liberation Sans" font-size="10.5" font-weight="bold" text-anchor="start" stroke="none" fill="#000" >26</text>
<line x1="1025.8" y1="727.1" x2="1014.6" y2="702.2" stroke-width="1.0"/>
<text x="1038.5" y="685.3" font-family="Liberation Sans" font-size="10.5" font-weight="bold" text-anchor="start" stroke="none" fill="#000" >24</text>
<line x1="1026.5" y1="652" x2="1045.5" y2="674.9" stroke-width="1.0"/>
<path d="M901.0,765.8 L914.0,774.8 M909.0,754.2 L922.0,763.2" stroke-width="1.3" fill="none"/>
<path d="M901.0,765.8 A4.2,7.0 34.7 0 1 909.0,754.2" stroke-width="1.3" fill="none"/>
<ellipse cx="918" cy="769" rx="3.8500000000000005" ry="6.6499999999999995" transform="rotate(34.69515353123397 918 769)" stroke-width="2.2" fill="#fff"/>
<ellipse cx="918" cy="769" rx="1.54" ry="3.5" transform="rotate(34.69515353123397 918 769)" stroke-width="1.0" fill="none"/>
<text x="949.5" y="755.8" font-family="Liberation Sans" font-size="10.5" font-weight="bold" text-anchor="start" stroke="none" fill="#000" >27</text>
<line x1="923" y1="765" x2="948" y2="752" stroke-width="1.0"/>
<path d="M1005.4,446.6 L1018.4,455.6 M1014.6,433.4 L1027.6,442.4" stroke-width="1.4" fill="none"/>
<path d="M1005.4,446.6 A4.8,8.0 34.7 0 1 1014.6,433.4" stroke-width="1.4" fill="none"/>
<ellipse cx="1023" cy="449" rx="4.4" ry="7.6" transform="rotate(34.69515353123397 1023 449)" stroke-width="2.2" fill="#fff"/>
<ellipse cx="1023" cy="449" rx="1.76" ry="4.0" transform="rotate(34.69515353123397 1023 449)" stroke-width="1.0" fill="none"/>
<text x="1011" y="402.6" font-family="Liberation Sans" font-size="10.5" font-weight="bold" text-anchor="start" stroke="none" fill="#000" >25</text>
<line x1="1018.2" y1="406" x2="1019" y2="432" stroke-width="1.0"/>
<path d="M1066.8,483.8 L1079.4,491.6 M1075.2,470.2 L1087.8,478.0" stroke-width="1.4" fill="none"/>
<path d="M1066.8,483.8 A4.8,8.0 31.8 0 1 1075.2,470.2" stroke-width="1.4" fill="none"/>
<ellipse cx="1083.6" cy="484.8" rx="4.4" ry="7.6" transform="rotate(31.759480084813017 1083.6 484.8)" stroke-width="2.2" fill="#fff"/>
<ellipse cx="1083.6" cy="484.8" rx="1.76" ry="4.0" transform="rotate(31.759480084813017 1083.6 484.8)" stroke-width="1.0" fill="none"/>
<text x="1053.5" y="527.9" font-family="Liberation Sans" font-size="10.5" font-weight="bold" text-anchor="start" stroke="none" fill="#000" >25</text>
<line x1="1060.7" y1="516.2" x2="1075.7" y2="491.4" stroke-width="1.0"/>
<path d="M1015.7,488.5 L1021.4,487.6 L1030.9,494.2 L1035.6,499.9" stroke-width="1.2" fill="none"/>
<line x1="1015.7" y1="488.5" x2="1007.1" y2="501.8" stroke-width="1.2"/>
<line x1="1020.4" y1="486.6" x2="1031.8" y2="472.4" stroke-width="1.1"/>
<path d="M1007,501 L1011,502 L1018.5,506.5 L1026,513 L1024,516" stroke-width="1.2" fill="none"/>
<path d="M1006,504 L1010,508.5 L1014,507.5 L1020.4,511.3 L1020.4,515" stroke-width="1.2" fill="none"/>
<line x1="1010.9" y1="508.5" x2="996.7" y2="530.3" stroke-width="1.1"/>
<line x1="1019.5" y1="516.1" x2="1005.2" y2="534.1" stroke-width="1.1"/>
<path d="M1028,506 L1034,502.8 L1041,504 L1042.3,511 L1036,515.1 L1030,513 Z" fill="#000" stroke="none"/>
<ellipse cx="1035" cy="509" rx="2" ry="2" transform="rotate(0 1035 509)" stroke-width="1" fill="#fff"/>
<line x1="1046" y1="482.8" x2="1068" y2="451.5" stroke-width="1.1"/>
<path d="M1037,502 L1044,496 L1046,489 L1039,479 L1033,470 L1035,460 L1046,444 L1055,437 L1060,433 L1058,423 L1066,410 L1071,404" stroke-width="4.6" fill="none" stroke-linejoin="round"/>
<path d="M1037,502 L1044,496 L1046,489 L1039,479 L1033,470 L1035,460 L1046,444 L1055,437 L1060,433 L1058,423 L1066,410 L1071,404" stroke-width="2.4" fill="none" stroke="#fff" stroke-linejoin="round"/>
<path d="M1055,437 L1068,444 L1079,450" stroke-width="4.6" fill="none" stroke-linejoin="round"/>
<path d="M1055,437 L1068,444 L1079,450" stroke-width="2.4" fill="none" stroke="#fff" stroke-linejoin="round"/>
<ellipse cx="1079" cy="447" rx="3" ry="3.5" transform="rotate(0 1079 447)" stroke-width="1.8" fill="none"/>
<ellipse cx="1081" cy="453" rx="3" ry="3" transform="rotate(0 1081 453)" stroke-width="1.8" fill="none"/>
<path d="M1119.5,327.8 C1116.8,329.1 1108.2,331.8 1103.1,335.7 C1098.0,339.6 1092.7,345.3 1088.8,351.4 C1084.9,357.5 1081.5,365.3 1079.6,372.3 C1077.7,379.3 1078.2,388.9 1077.6,393.2 C1076.9,397.5 1076.0,397.5 1075.7,398.4" stroke-width="1.0" fill="none"/>
<path d="M1128,335 C1125.4,336.4 1117.3,339.5 1112.3,343.5 C1107.3,347.5 1101.8,353.3 1097.9,359.2 C1094.0,365.1 1090.9,373.1 1088.8,378.8 C1086.7,384.5 1086.2,389.1 1085.5,393.2 C1084.8,397.3 1085.6,401.5 1084.8,403.7 C1084.0,405.9 1081.6,405.9 1080.9,406.3" stroke-width="1.0" fill="none"/>
<path d="M1124,342.9 C1121.6,344.5 1114.0,348.2 1109.7,352.7 C1105.4,357.2 1101.0,363.8 1097.9,369.7 C1094.9,375.6 1093.0,382.1 1091.4,388 C1089.8,393.9 1088.6,402.2 1088.1,405" stroke-width="1.0" fill="none"/>
<path d="M1128,344.2 C1126.2,346.1 1121.4,350.6 1117.5,355.3 C1113.6,360.0 1107.9,366.9 1104.4,372.3 C1100.9,377.8 1098.5,382.8 1096.6,388 C1094.6,393.2 1093.3,401.1 1092.7,403.7" stroke-width="1.0" fill="none"/>
<path d="M1117.5,355.3 C1117.1,357.1 1116.9,361.2 1114.9,365.8 C1113.0,370.4 1108.6,376.8 1105.8,382.7 C1103.0,388.6 1099.2,397.9 1097.9,401" stroke-width="1.0" fill="none"/>
<path d="M1112.3,363.1 C1110.8,365.1 1105.5,370.8 1103.1,374.9 C1100.7,379.0 1099.2,383.6 1097.9,388 C1096.6,392.4 1095.7,398.8 1095.3,401" stroke-width="1.0" fill="none"/>
<path d="M1129.3,348.1 C1128.2,350.6 1124.7,357.8 1122.7,363.1 C1120.7,368.4 1120.3,374.2 1117.5,380.1 C1114.7,386.0 1108.8,394.0 1105.8,398.4 C1102.8,402.8 1100.3,405.0 1099.2,406.3" stroke-width="1.0" fill="none"/>
<path d="M1128,372.3 C1126.2,374.9 1121.7,382.6 1117.5,388 C1113.3,393.4 1105.5,402.2 1103.1,405" stroke-width="1.0" fill="none"/>
<path d="M1128,384.1 C1126.0,386.5 1119.9,393.4 1116.2,398.4 C1112.5,403.4 1107.5,411.5 1105.8,414.1" stroke-width="1.0" fill="none"/>
<path d="M1092,406 L1100,404 L1104,411 L1101,418 L1093,417 Z" fill="#000" stroke="none"/>
<ellipse cx="1098" cy="410" rx="1.5" ry="1.5" transform="rotate(0 1098 410)" stroke-width="0.8" fill="none"/>
<path d="M1097,418 L1103,416 L1105,424 L1100,427 L1096,424 Z" fill="#000" stroke="none"/>
<line x1="1092.7" y1="415.4" x2="1083.5" y2="429.8" stroke-width="1.0"/>
<polygon points="1065.5,399 1071,396 1077,400 1077,408 1071,411.5 1066,407" stroke-width="1.4" fill="none"/>
<ellipse cx="1071" cy="403" rx="2.5" ry="2" transform="rotate(0 1071 403)" stroke-width="1.2" fill="none"/>
<line x1="1059" y1="428" x2="1065" y2="410" stroke-width="1.0"/>
<line x1="1063" y1="430" x2="1069" y2="411" stroke-width="1.0"/>
<ellipse cx="1089.4" cy="438.2" rx="4" ry="4" transform="rotate(0 1089.4 438.2)" stroke-width="2" fill="none"/>
<ellipse cx="1089.4" cy="438.2" rx="1.5" ry="1.5" transform="rotate(0 1089.4 438.2)" stroke-width="1" fill="none"/>
<text x="1101.5" y="465.7" font-family="Liberation Sans" font-size="10.5" font-weight="bold" text-anchor="start" stroke="none" fill="#000" >28</text>
<line x1="1092" y1="442" x2="1103" y2="453" stroke-width="1.0"/>
<text x="885" y="419.6" font-family="Liberation Sans" font-size="18.5" font-weight="normal" text-anchor="start" stroke="none" fill="#000" textLength="189" lengthAdjust="spacingAndGlyphs">manuals-komatsu.com</text>
</svg>
</body></html>
